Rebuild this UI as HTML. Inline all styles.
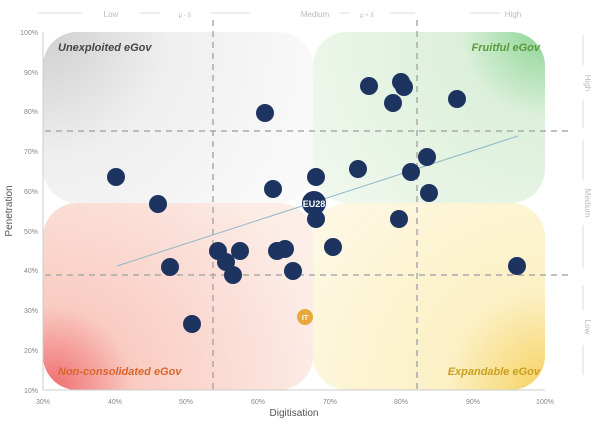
<!DOCTYPE html>
<html><head><meta charset="utf-8"><style>
body{margin:0;background:#fff;}
svg{display:block;font-family:"Liberation Sans",sans-serif;}
</style></head><body>
<svg width="600" height="424" viewBox="0 0 600 424">
<defs>
<radialGradient id="g1" cx="43" cy="32" r="280" gradientUnits="userSpaceOnUse">
<stop offset="0" stop-color="#cfcfcf"/><stop offset="0.45" stop-color="#efefef"/><stop offset="1" stop-color="#f9f9f9"/></radialGradient>
<radialGradient id="g2" cx="545" cy="32" r="280" gradientUnits="userSpaceOnUse">
<stop offset="0" stop-color="#8ad494"/><stop offset="0.3" stop-color="#dcf0da"/><stop offset="1" stop-color="#f1f8ef"/></radialGradient>
<radialGradient id="g3" cx="50" cy="390" r="280" gradientUnits="userSpaceOnUse">
<stop offset="0" stop-color="#f06a6e"/><stop offset="0.3" stop-color="#f9ccc2"/><stop offset="1" stop-color="#fcede7"/></radialGradient>
<radialGradient id="g4" cx="545" cy="390" r="280" gradientUnits="userSpaceOnUse">
<stop offset="0" stop-color="#f6d262"/><stop offset="0.35" stop-color="#fcf0c4"/><stop offset="1" stop-color="#fef8e4"/></radialGradient>
</defs>
<rect x="43" y="32" width="270" height="171" rx="34" fill="url(#g1)"/>
<rect x="313" y="32" width="232" height="171" rx="34" fill="url(#g2)"/>
<rect x="43" y="203" width="270" height="187" rx="34" fill="url(#g3)"/>
<rect x="313" y="203" width="232" height="187" rx="34" fill="url(#g4)"/>
<line x1="43" y1="32" x2="43" y2="390" stroke="#ccc"/>
<line x1="43" y1="390" x2="545" y2="390" stroke="#ccc"/>
<g stroke="#aaa" stroke-width="1.5" stroke-dasharray="6,5">
<line x1="213" y1="20" x2="213" y2="390"/><line x1="417" y1="20" x2="417" y2="390"/>
<line x1="45" y1="131" x2="568" y2="131"/><line x1="45" y1="275" x2="568" y2="275"/>
</g>
<line x1="117" y1="266" x2="518" y2="136" stroke="#8fb8c8" stroke-width="1"/>
<g font-size="7" fill="#888" text-anchor="end">
<text x="38" y="35">100%</text><text x="38" y="75">90%</text><text x="38" y="114">80%</text><text x="38" y="154">70%</text><text x="38" y="194">60%</text><text x="38" y="234">50%</text><text x="38" y="273">40%</text><text x="38" y="313">30%</text><text x="38" y="353">20%</text><text x="38" y="393">10%</text>
</g>
<g font-size="7" fill="#888" text-anchor="middle">
<text x="43" y="404">30%</text><text x="115" y="404">40%</text><text x="186" y="404">50%</text><text x="258" y="404">60%</text><text x="330" y="404">70%</text><text x="401" y="404">80%</text><text x="473" y="404">90%</text><text x="545" y="404">100%</text>
</g>
<text x="294" y="416" font-size="10" fill="#555" text-anchor="middle">Digitisation</text>
<text transform="translate(12,211) rotate(-90)" font-size="10" fill="#555" text-anchor="middle">Penetration</text>
<g font-size="8" fill="#bbb" text-anchor="middle">
<text x="111" y="17">Low</text><text x="315" y="17">Medium</text><text x="513" y="17">High</text>
<text x="185" y="17" font-size="6">μ - δ</text><text x="367" y="17" font-size="6">μ + δ</text>
</g>
<g stroke="#ddd"><line x1="38" y1="13" x2="82" y2="13"/><line x1="140" y1="13" x2="160" y2="13"/><line x1="210" y1="13" x2="250" y2="13"/><line x1="340" y1="13" x2="350" y2="13"/><line x1="390" y1="13" x2="415" y2="13"/><line x1="470" y1="13" x2="500" y2="13"/></g>
<g font-size="8" fill="#bbb" text-anchor="middle">
<text transform="translate(585,83) rotate(90)">High</text>
<text transform="translate(585,203) rotate(90)">Medium</text>
<text transform="translate(585,327) rotate(90)">Low</text>
</g>
<g stroke="#ddd"><line x1="583" y1="35" x2="583" y2="65"/><line x1="583" y1="100" x2="583" y2="128"/><line x1="583" y1="140" x2="583" y2="180"/><line x1="583" y1="225" x2="583" y2="268"/><line x1="583" y1="285" x2="583" y2="310"/><line x1="583" y1="345" x2="583" y2="375"/></g>
<g font-size="11" font-weight="bold" font-style="italic">
<text x="58" y="51" fill="#444">Unexploited eGov</text>
<text x="540" y="51" fill="#5b9a3c" text-anchor="end">Fruitful eGov</text>
<text x="58" y="375" fill="#d9652b">Non-consolidated eGov</text>
<text x="540" y="375" fill="#c9a020" text-anchor="end">Expandable eGov</text>
</g>
<g fill="#1d3461">
<circle cx="116" cy="177" r="9"/><circle cx="158" cy="204" r="9"/><circle cx="170" cy="267" r="9"/><circle cx="192" cy="324" r="9"/><circle cx="218" cy="251" r="9"/><circle cx="226" cy="262" r="9"/><circle cx="233" cy="275" r="9"/><circle cx="240" cy="251" r="9"/><circle cx="265" cy="113" r="9"/><circle cx="273" cy="189" r="9"/><circle cx="277" cy="251" r="9"/><circle cx="285" cy="249" r="9"/><circle cx="293" cy="271" r="9"/><circle cx="316" cy="177" r="9"/><circle cx="316" cy="219" r="9"/><circle cx="333" cy="247" r="9"/><circle cx="358" cy="169" r="9"/><circle cx="369" cy="86" r="9"/><circle cx="393" cy="103" r="9"/><circle cx="399" cy="219" r="9"/><circle cx="401" cy="82" r="9"/><circle cx="404" cy="87" r="9"/><circle cx="411" cy="172" r="9"/><circle cx="427" cy="157" r="9"/><circle cx="429" cy="193" r="9"/><circle cx="457" cy="99" r="9"/><circle cx="517" cy="266" r="9"/>
<circle cx="314" cy="203" r="12"/>
</g>
<text x="314" y="207" font-size="9" font-weight="bold" fill="#fff" text-anchor="middle">EU28</text>
<circle cx="305" cy="317" r="8" fill="#e8a93a"/>
<text x="305" y="320" font-size="7" font-weight="bold" fill="#fff" text-anchor="middle">IT</text>
</svg>
</body></html>
